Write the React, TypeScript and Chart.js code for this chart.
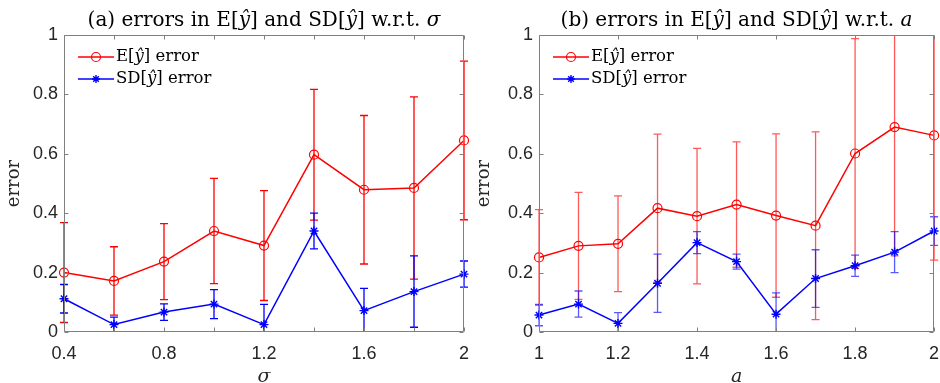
import React, { useEffect, useRef } from 'react';
import { Chart, registerables } from 'chart.js';

Chart.register(...registerables);

// ---------- data ----------
const sigmaValues = [0.4, 0.6, 0.8, 1.0, 1.2, 1.4, 1.6, 1.8, 2.0];
const meanErrSigma = [0.200, 0.172, 0.237, 0.340, 0.291, 0.597, 0.479, 0.485, 0.645];
const meanErrBarSigma = [0.168, 0.115, 0.128, 0.177, 0.185, 0.220, 0.250, 0.307, 0.267];
const sdErrSigma = [0.112, 0.025, 0.067, 0.094, 0.025, 0.340, 0.072, 0.136, 0.195];
const sdErrBarSigma = [0.048, 0.025, 0.028, 0.049, 0.068, 0.060, 0.075, 0.120, 0.044];

const aValues = [1.0, 1.1, 1.2, 1.3, 1.4, 1.5, 1.6, 1.7, 1.8, 1.9, 2.0];
const meanErrA = [0.251, 0.290, 0.297, 0.417, 0.390, 0.429, 0.392, 0.358, 0.601, 0.690, 0.662];
const meanErrBarA = [0.161, 0.180, 0.161, 0.249, 0.228, 0.211, 0.275, 0.316, 0.387, 0.434, 0.420];
const sdErrA = [0.057, 0.094, 0.029, 0.164, 0.301, 0.237, 0.060, 0.180, 0.223, 0.269, 0.340];
const sdErrBarA = [0.036, 0.044, 0.036, 0.098, 0.037, 0.025, 0.072, 0.097, 0.036, 0.069, 0.048];

const xTickLabelsSigma = ['0.4', '0.8', '1.2', '1.6', '2'];
const xTickLabelsA = ['1', '1.2', '1.4', '1.6', '1.8', '2'];
const yTickLabels = ['0', '0.2', '0.4', '0.6', '0.8', '1'];

const titleSigma: [string, boolean][] = [
  ['(a) errors in E[', false], ['ŷ', true], ['] and SD[', false], ['ŷ', true], ['] w.r.t. ', false], ['σ', true],
];
const titleA: [string, boolean][] = [
  ['(b) errors in E[', false], ['ŷ', true], ['] and SD[', false], ['ŷ', true], ['] w.r.t. ', false], ['a', true],
];
const legendMean: [string, boolean][] = [['E[', false], ['ŷ', true], ['] error', false]];
const legendSd: [string, boolean][] = [['SD[', false], ['ŷ', true], ['] error', false]];

// ---------- styles ----------
const SERIF = "'DejaVu Serif', 'Liberation Serif', serif";
const SANS = "'Liberation Sans', Arial, sans-serif";
const TEXT = '#262626';
const AXIS = '#808080';
const RED = '#ff0000';
const BLUE = '#0000ff';

type Panel = {
  left: number;
  axisWidth: number;
  padRight: number;
  title: [string, boolean][];
  xLabel: string;
  xs: number[];
  mean: number[];
  meanErr: number[];
  sd: number[];
  sdErr: number[];
  xMin: number;
  xMax: number;
  xStep: number;
  xLabels: string[];
  barRed: string;
  barBlue: string;
};

const panels: Panel[] = [
  {
    left: 0, axisWidth: 64, padRight: 6, title: titleSigma, xLabel: 'σ',
    xs: sigmaValues, mean: meanErrSigma, meanErr: meanErrBarSigma, sd: sdErrSigma, sdErr: sdErrBarSigma,
    xMin: 0.4, xMax: 2, xStep: 0.2, xLabels: xTickLabelsSigma,
    barRed: RED, barBlue: BLUE,
  },
  {
    left: 470, axisWidth: 69, padRight: 2, title: titleA, xLabel: 'a',
    xs: aValues, mean: meanErrA, meanErr: meanErrBarA, sd: sdErrA, sdErr: sdErrBarA,
    xMin: 1, xMax: 2, xStep: 0.2, xLabels: xTickLabelsA,
    barRed: 'rgba(255,0,0,0.65)', barBlue: 'rgba(0,0,255,0.65)',
  },
];

function drawSegments(ctx: CanvasRenderingContext2D, segs: [string, boolean][], x: number, y: number, size: number, align: 'left' | 'center') {
  const fontOf = (it: boolean) => `${it ? 'italic ' : ''}${size}px ${SERIF}`;
  let total = 0;
  for (const [t, it] of segs) { ctx.font = fontOf(it); total += ctx.measureText(t).width; }
  let cx = align === 'center' ? x - total / 2 : x;
  ctx.textAlign = 'left';
  for (const [t, it] of segs) {
    ctx.font = fontOf(it);
    ctx.fillText(t, cx, y);
    cx += ctx.measureText(t).width;
  }
}

function drawCircle(ctx: CanvasRenderingContext2D, x: number, y: number, r: number, color: string) {
  ctx.beginPath();
  ctx.arc(x, y, r, 0, Math.PI * 2);
  ctx.strokeStyle = color;
  ctx.lineWidth = 1.2;
  ctx.stroke();
}

function drawStar(ctx: CanvasRenderingContext2D, x: number, y: number, r: number, color: string) {
  ctx.beginPath();
  for (let k = 0; k < 4; k++) {
    const a = (k * Math.PI) / 4;
    ctx.moveTo(x - r * Math.cos(a), y - r * Math.sin(a));
    ctx.lineTo(x + r * Math.cos(a), y + r * Math.sin(a));
  }
  ctx.strokeStyle = color;
  ctx.lineWidth = 1.4;
  ctx.stroke();
}

const decorPlugin = {
  id: 'decor',
  beforeDatasetsDraw(chart: any, _args: any, opts: any) {
    const p: Panel = opts.panel;
    const { ctx, chartArea: ca, scales } = chart;
    const xs = scales.x, ys = scales.y;
    ctx.save();
    ctx.beginPath();
    ctx.rect(ca.left - 10, ca.top, ca.right - ca.left + 20, ca.bottom - ca.top);
    ctx.clip();
    const bars = (vals: number[], errs: number[], color: string) => {
      ctx.strokeStyle = color;
      ctx.lineWidth = 1.3;
      for (let i = 0; i < p.xs.length; i++) {
        const px = xs.getPixelForValue(p.xs[i]);
        const t = ys.getPixelForValue(vals[i] + errs[i]);
        const b = ys.getPixelForValue(vals[i] - errs[i]);
        ctx.beginPath();
        ctx.moveTo(px, t); ctx.lineTo(px, b);
        ctx.moveTo(px - 4, t); ctx.lineTo(px + 4, t);
        ctx.moveTo(px - 4, b); ctx.lineTo(px + 4, b);
        ctx.stroke();
      }
    };
    bars(p.mean, p.meanErr, p.barRed);
    bars(p.sd, p.sdErr, p.barBlue);
    ctx.restore();
  },
  afterDatasetsDraw(chart: any) {
    const { ctx, chartArea: ca, scales } = chart;
    const l = Math.round(ca.left) + 0.5, r = Math.round(ca.right) - 0.5;
    const t = Math.round(ca.top) + 0.5, b = Math.round(ca.bottom) - 0.5;
    ctx.save();
    ctx.strokeStyle = AXIS;
    ctx.lineWidth = 1;
    ctx.beginPath();
    ctx.rect(l, t, r - l, b - t);
    const tl = 4;
    for (const tk of scales.x.ticks) {
      const px = Math.round(scales.x.getPixelForValue(tk.value)) + 0.5;
      ctx.moveTo(px, b); ctx.lineTo(px, b - tl);
      ctx.moveTo(px, t); ctx.lineTo(px, t + tl);
    }
    for (const tk of scales.y.ticks) {
      const py = Math.round(scales.y.getPixelForValue(tk.value)) + 0.5;
      ctx.moveTo(l, py); ctx.lineTo(l + tl, py);
      ctx.moveTo(r, py); ctx.lineTo(r - tl, py);
    }
    ctx.stroke();
    ctx.restore();
  },
  afterDraw(chart: any, _args: any, opts: any) {
    const p: Panel = opts.panel;
    const { ctx, chartArea: ca } = chart;
    ctx.save();
    ctx.fillStyle = '#000000';
    ctx.textBaseline = 'alphabetic';
    drawSegments(ctx, p.title, (ca.left + ca.right) / 2, 26, 20, 'center');
    // legend
    const lx = ca.left + 14;
    const rows: [[string, boolean][], string, 'circle' | 'star'][] = [
      [legendMean, RED, 'circle'],
      [legendSd, BLUE, 'star'],
    ];
    rows.forEach(([segs, color, kind], i) => {
      const y = ca.top + 22 + i * 22;
      ctx.strokeStyle = color;
      ctx.lineWidth = 1.5;
      ctx.beginPath();
      ctx.moveTo(lx, y); ctx.lineTo(lx + 36, y);
      ctx.stroke();
      if (kind === 'circle') drawCircle(ctx, lx + 18, y, 4.5, color);
      else drawStar(ctx, lx + 18, y, 4, color);
      ctx.fillStyle = '#000000';
      ctx.textBaseline = 'middle';
      drawSegments(ctx, segs, lx + 38, y, 16.5, 'left');
    });
    ctx.restore();
  },
};

function fmt(v: number) {
  return String(Math.round(v * 10) / 10);
}

function PanelChart({ p }: { p: Panel }) {
  const ref = useRef<HTMLCanvasElement | null>(null);
  useEffect(() => {
    if (!ref.current) return;
    const chart = new Chart(ref.current, {
      type: 'line',
      data: {
        datasets: [
          {
            label: 'E error',
            data: p.xs.map((x, i) => ({ x, y: p.mean[i] })),
            borderColor: RED,
            borderWidth: 1.5,
            pointStyle: 'circle',
            pointRadius: 4.5,
            pointBorderColor: RED,
            pointBackgroundColor: 'rgba(0,0,0,0)',
            pointBorderWidth: 1.2,
            tension: 0,
            clip: false,
          },
          {
            label: 'SD error',
            data: p.xs.map((x, i) => ({ x, y: p.sd[i] })),
            borderColor: BLUE,
            borderWidth: 1.5,
            pointStyle: 'star',
            pointRadius: 4.5,
            pointBorderColor: BLUE,
            pointBackgroundColor: BLUE,
            pointBorderWidth: 1.4,
            tension: 0,
            clip: false,
          },
        ],
      },
      options: {
        responsive: false,
        animation: false,
        events: [],
        layout: { padding: { top: 35, right: p.padRight, bottom: 0, left: 0 } },
        plugins: {
          legend: { display: false },
          title: { display: false },
          tooltip: { enabled: false },
          decor: { panel: p },
        } as any,
        scales: {
          x: {
            type: 'linear',
            min: p.xMin,
            max: p.xMax,
            grid: { display: false, drawTicks: false },
            border: { display: false },
            ticks: {
              stepSize: p.xStep,
              autoSkip: false,
              maxRotation: 0,
              color: TEXT,
              padding: 11,
              font: { family: SANS, size: 18 },
              callback: (v: any) => {
                const s = fmt(Number(v));
                return p.xLabels.includes(s) ? s : '';
              },
            },
            title: {
              display: true,
              text: p.xLabel,
              color: TEXT,
              font: { family: SERIF, size: 19, style: 'italic' },
              padding: { top: 0, bottom: -5 },
            },
            afterFit: (s: any) => { s.height = 51; s.paddingLeft = 0; s.paddingRight = 0; },
          },
          y: {
            type: 'linear',
            min: 0,
            max: 1,
            grid: { display: false, drawTicks: false },
            border: { display: false },
            ticks: {
              stepSize: 0.2,
              color: TEXT,
              padding: 6,
              font: { family: SANS, size: 18 },
              callback: (v: any) => {
                const s = fmt(Number(v));
                return yTickLabels.includes(s) ? s : '';
              },
            },
            title: {
              display: true,
              text: 'error',
              color: TEXT,
              font: { family: SERIF, size: 18 },
              padding: { top: 4, bottom: 0 },
            },
            afterFit: (s: any) => { s.width = p.axisWidth; s.paddingTop = 0; s.paddingBottom = 0; },
          },
        },
      } as any,
      plugins: [decorPlugin as any],
    });
    return () => chart.destroy();
  }, [p]);
  return (
    <canvas
      ref={ref}
      width={470}
      height={383}
      style={{ position: 'absolute', left: p.left, top: 0, width: 470, height: 383 }}
    />
  );
}

export default function App() {
  return (
    <div style={{ position: 'absolute', left: 0, top: 0, width: 940, height: 383, background: '#ffffff', overflow: 'hidden' }}>
      {panels.map((p, i) => <PanelChart key={i} p={p} />)}
    </div>
  );
}
